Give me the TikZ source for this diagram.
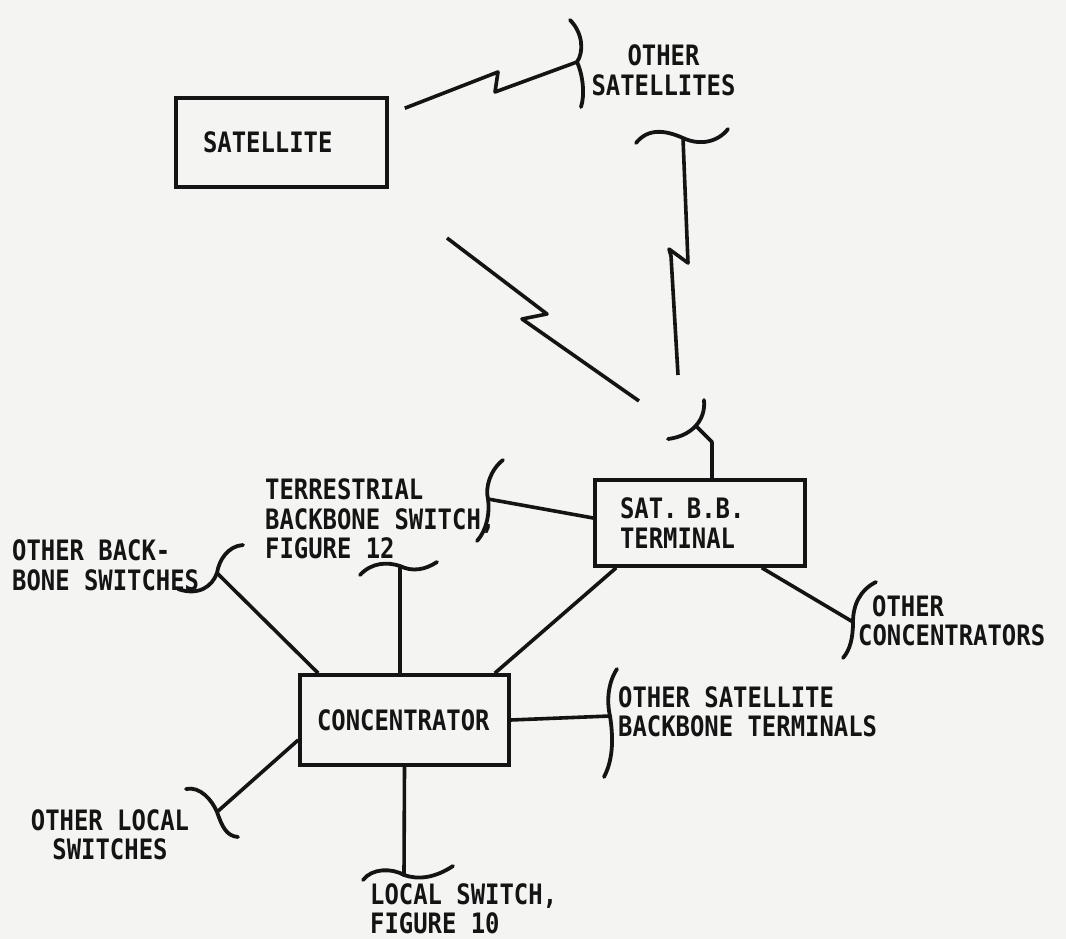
\documentclass[tikz,border=0pt]{standalone}
\usepackage{fontspec}
\usepackage{tikz}
\usetikzlibrary{positioning,calc}
\newfontfamily\typefont[FakeStretch=0.85]{DejaVu Sans Mono Bold}
\definecolor{Ink}{HTML}{141414}
\definecolor{Paper}{HTML}{F4F4F2}

\begin{document}
\begin{tikzpicture}[
  x=1pt, y=-1pt,
  every node/.style={font=\typefont\fontsize{28.1}{29.5}\selectfont, text=Ink},
  UNIT/.style={draw=Ink, line width=3.6pt, inner sep=0pt, align=left},
  LBL/.style={inner sep=0pt},
  wire/.style={draw=Ink, line width=3.6pt, line join=round},
  brace/.style={draw=Ink, line width=3.8pt, line cap=round},
]

  \path[use as bounding box, fill=Paper] (0,0) rectangle (1066,939);

  % Main nodes
  \node[UNIT, minimum width=211pt, minimum height=89pt,
        inner xsep=27pt, text width=157pt] (sat)  at (281.5,142.5) {SATELLITE};
  \node[UNIT, minimum width=210pt, minimum height=86pt,
        inner xsep=25pt, text width=160pt] (sbb)  at (700,523) {SAT. B.B.\\TERMINAL};
  \node[UNIT, minimum width=209pt, minimum height=90pt,
        inner xsep=17pt, text width=175pt] (conc) at (404.5,720) {CONCENTRATOR};

  % Labels
  \node[LBL, align=center]             (othsat) at (663.5,70.5) {OTHER\\SATELLITES};
  \node[LBL, align=left, anchor=west]  (othcon) at (858,621) {\hspace*{14pt}OTHER\\CONCENTRATORS};
  \node[LBL, align=left, anchor=west]  (ossbt)  at (618,712) {OTHER SATELLITE\\BACKBONE TERMINALS};
  \node[LBL, align=left, anchor=west]  (terr)   at (265,519) {TERRESTRIAL\\BACKBONE SWITCH,\\FIGURE 12};
  \node[LBL, align=left, anchor=west]  (obs)    at (12,565.5) {OTHER BACK-\\BONE SWITCHES};
  \node[LBL, align=center]             (ols)    at (110,835) {OTHER LOCAL\\SWITCHES};
  \node[LBL, align=left, anchor=west]  (ls)     at (370,909) {LOCAL SWITCH,\\FIGURE 10};

  % Bracket tips and free ends
  \coordinate (bOS)   at (577,62);
  \coordinate (bTop)  at (683,138);
  \coordinate (bSBB)  at (696,426);
  \coordinate (kSBB)  at (712,442);
  \coordinate (bTerr) at (488,499);
  \coordinate (bTS)   at (400,566);
  \coordinate (bOBS)  at (217,573);
  \coordinate (bOC)   at (853,622);
  \coordinate (bOSBT) at (610,716);
  \coordinate (bOLS)  at (217,812);
  \coordinate (bLS)   at (404,875);
  \coordinate (vEnd)  at (678,375);
  \coordinate (dBeg)  at (447,238);
  \coordinate (dEnd)  at (639,401);

  % Brackets
  \draw[brace] (570,20) .. controls (583,33) and (584,52) .. (bOS)
               .. controls (583,75) and (585,95) .. (581,107);
  \draw[brace] (636,143) .. controls (648,128) and (665,130) .. (bTop)
               .. controls (700,146) and (718,142) .. (728,129);
  \draw[brace] (704,400) .. controls (706,420) and (692,436) .. (668,439);
  \draw[brace] (503,460) .. controls (490,470) and (485,488) .. (bTerr)
               .. controls (490,512) and (487,530) .. (477,541);
  \draw[brace] (360,575) .. controls (372,562) and (388,562) .. (bTS)
               .. controls (412,572) and (425,570) .. (437,562);
  \draw[brace] (243,545) .. controls (228,546) and (219,560) .. (bOBS)
               .. controls (212,587) and (198,596) .. (178,589);
  \draw[brace] (876,582) .. controls (860,590) and (853,605) .. (bOC)
               .. controls (853,638) and (850,650) .. (843,658);
  \draw[brace] (617,669) .. controls (607,684) and (607,704) .. (bOSBT)
               .. controls (613,735) and (614,758) .. (604,777);
  \draw[brace] (186,789) .. controls (200,786) and (212,800) .. (bOLS)
               .. controls (222,826) and (226,836) .. (238,837);
  \draw[brace] (363,880) .. controls (372,868) and (392,868) .. (bLS)
               .. controls (418,880) and (435,878) .. (453,866);

  % Radio links
  \draw[wire] ([xshift=16pt,yshift=-12pt]sat.north east) -- (498,72) -- (495,92) -- (bOS);
  \draw[wire] (bTop) -- (688,263) -- (669,249) -- (671,256) -- (vEnd);
  \draw[wire] (dBeg) -- (547,314) -- (522,319) -- (dEnd);

  % Lines
  \draw[wire] (bSBB) -- (kSBB) -- (kSBB |- sbb.north);
  \draw[wire] (bTerr) -- ([yshift=5pt]sbb.west);
  \draw[wire] ([xshift=23pt]sbb.south west) -- ([xshift=-16pt]conc.north east);
  \draw[wire] ([xshift=-45pt]sbb.south east) -- (bOC);
  \draw[wire] (bOBS) -- ([xshift=20pt]conc.north west);
  \draw[wire] (bTS) -- (bTS |- conc.north);
  \draw[wire] (conc.east) -- (bOSBT);
  \draw[wire] ([yshift=-20pt]conc.west) -- (bOLS);
  \draw[wire] (conc.south) -- (bLS);

\end{tikzpicture}
\end{document}
